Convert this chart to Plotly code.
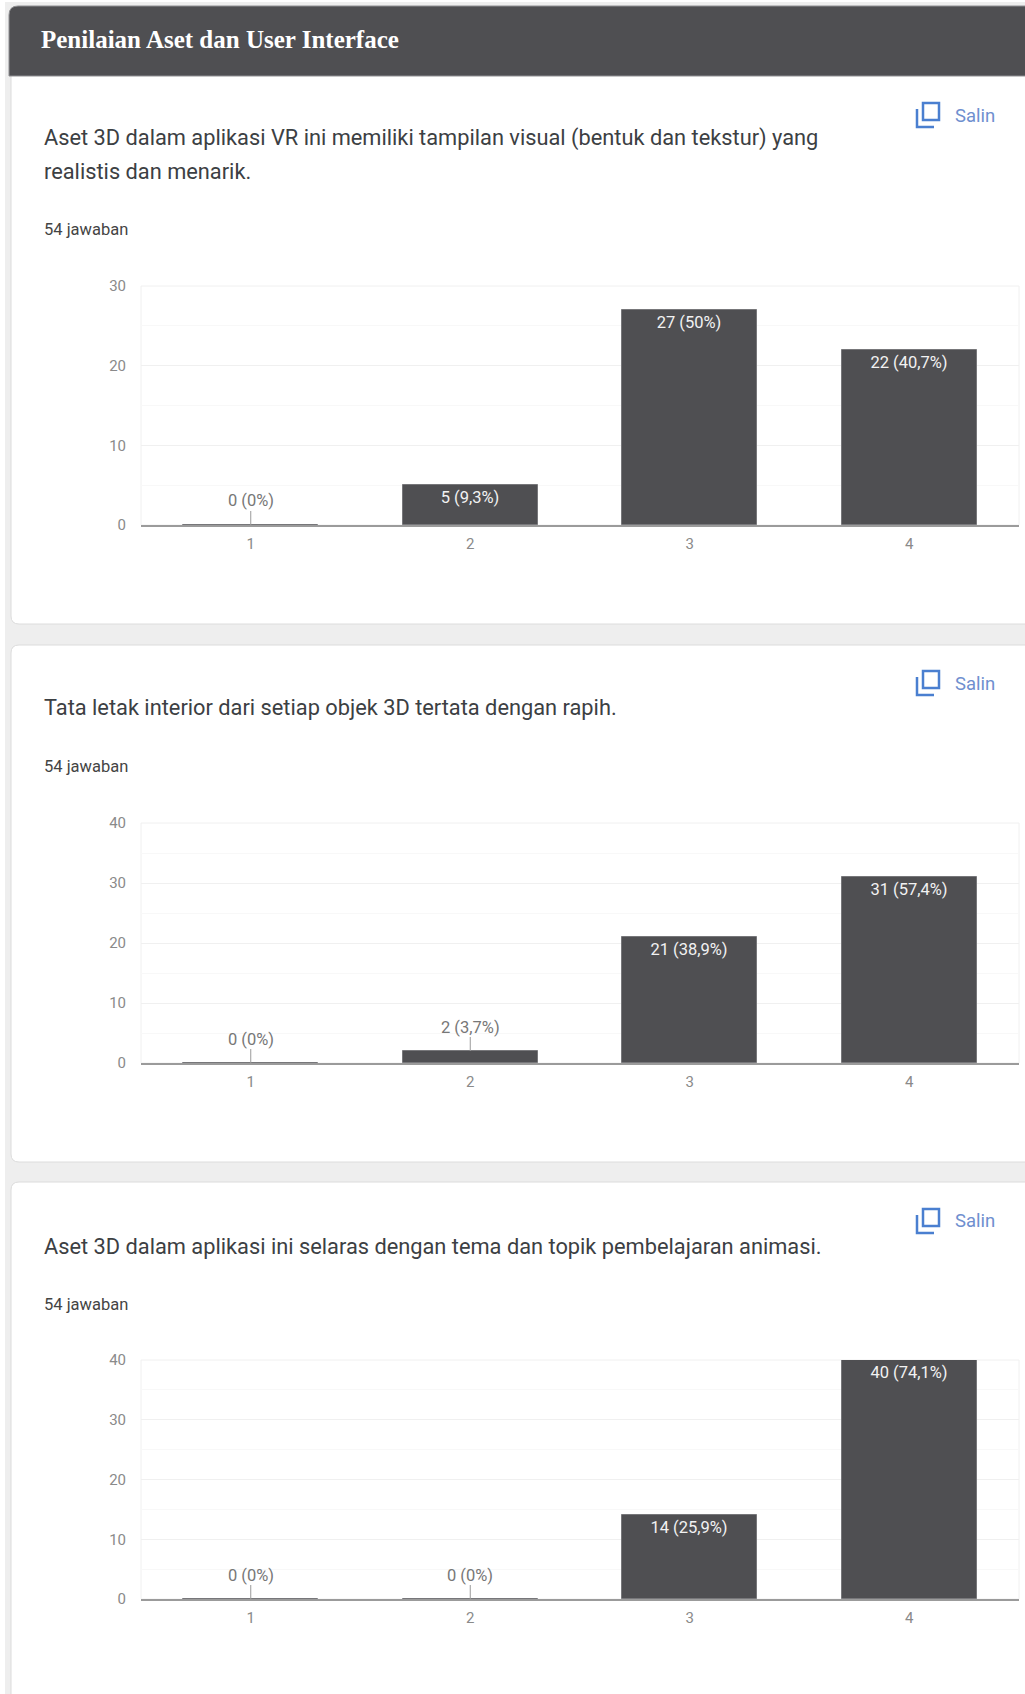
import plotly.graph_objects as go

W, H = 1025, 1694

section_title = "Penilaian Aset dan User Interface"
questions = [
    ["Aset 3D dalam aplikasi VR ini memiliki tampilan visual (bentuk dan tekstur) yang", "realistis dan menarik."],
    ["Tata letak interior dari setiap objek 3D tertata dengan rapih."],
    ["Aset 3D dalam aplikasi ini selaras dengan tema dan topik pembelajaran animasi."],
]
answers_label = "54 jawaban"
copy_label = "Salin"
categories = ["1", "2", "3", "4"]
values_q1 = [0, 5, 27, 22]
labels_q1 = ["0 (0%)", "5 (9,3%)", "27 (50%)", "22 (40,7%)"]
values_q2 = [0, 2, 21, 31]
labels_q2 = ["0 (0%)", "2 (3,7%)", "21 (38,9%)", "31 (57,4%)"]
values_q3 = [0, 0, 14, 40]
labels_q3 = ["0 (0%)", "0 (0%)", "14 (25,9%)", "40 (74,1%)"]
axis_max = [30, 40, 40]
major_ticks = [[0, 10, 20, 30], [0, 10, 20, 30, 40], [0, 10, 20, 30, 40]]
minor_ticks = [[5, 15, 25], [5, 15, 25, 35], [5, 15, 25, 35]]

series = [(values_q1, labels_q1), (values_q2, labels_q2), (values_q3, labels_q3)]

DARK = "#4f4f52"
BLUE = "#4a7fd0"
TEXT = "#3c4043"
TICK = "#8a8a8a"
FONT = "Roboto"

# pixel layout of the page
PX_LEFT, PX_RIGHT = 141, 1019
plot_px = [(286, 525), (823, 1063), (1360, 1599)]
q_y = [[138, 171], [707], [1246]]
ans_y = [229, 766, 1304]
copy_y = [116, 684, 1221]
icon_top = [102, 670, 1208]


def py(p):
    return 1 - p / H


def px(p):
    return p / W


fig = go.Figure()
shapes = []
ann = []


def paper_shape(**k):
    shapes.append(dict(xref="paper", yref="paper", layer="below", **k))


def rect_path(x0, y0, x1, y1, r_tl=0, r_bl=0):
    s = f"M {px(x0 + r_tl)} {py(y0)} L {px(x1)} {py(y0)} L {px(x1)} {py(y1)} L {px(x0 + r_bl)} {py(y1)} "
    if r_bl:
        s += f"Q {px(x0)} {py(y1)} {px(x0)} {py(y1 - r_bl)} "
    s += f"L {px(x0)} {py(y0 + r_tl)} "
    if r_tl:
        s += f"Q {px(x0)} {py(y0)} {px(x0 + r_tl)} {py(y0)} "
    return s + "Z"


# page background
paper_shape(type="rect", x0=px(5), x1=1, y0=py(H), y1=py(2), fillcolor="#eeeeee", line_width=0)
# cards
for top, bottom, r_tl, r_bl in [(70, 624, 0, 8), (645, 1162, 8, 8), (1182, H + 10, 8, 0)]:
    paper_shape(type="path", path=rect_path(11, top, W + 5, bottom, r_tl, r_bl),
                fillcolor="white", line=dict(color="#dcdcdc", width=1))
# header band
paper_shape(type="path", path=rect_path(9, 6, W + 5, 76, 9, 0), fillcolor=DARK, line=dict(color="#8f8f92", width=1))
ann.append(dict(text=f"<b>{section_title}</b>", xref="paper", yref="paper", x=px(41), y=py(39),
                xanchor="left", yanchor="middle", showarrow=False, xshift=-2,
                font=dict(family="Liberation Serif", size=25, color="white")))

for i, (vals, labels) in enumerate(series):
    n = "" if i == 0 else str(i + 1)
    top, bottom = plot_px[i]
    xname, yname = f"x{n}", f"y{n}"

    fig.add_trace(go.Bar(
        x=categories, y=vals, width=0.615, xaxis=xname, yaxis=yname,
        marker=dict(color=DARK, line=dict(color="#77777a", width=1)),
        text=[l if v >= 5 else "" for v, l in zip(vals, labels)],
        textposition="inside", insidetextanchor="end", textangle=0, constraintext="none",
        textfont=dict(family=FONT, size=16.5, color="#f2f2f2"),
        hoverinfo="skip", showlegend=False, cliponaxis=False,
    ))
    for k, (v, l) in enumerate(zip(vals, labels)):
        if v < 5:
            # outside label, and its short leader line down to the bar
            ann.append(dict(x=k, y=v, xref=xname, yref=yname, text=l, showarrow=False,
                            yshift=24, yanchor="middle",
                            font=dict(family=FONT, size=16.5, color="#777777")))
            ann.append(dict(x=k, y=v, xref=xname, yref=yname, text=" ", showarrow=True, arrowhead=0,
                            arrowwidth=1, arrowcolor="#9a9a9a", ax=0, ay=-16, standoff=0,
                            font=dict(family=FONT, size=1, color="#777777")))
    fig.update_layout(**{
        f"xaxis{n}": dict(domain=[px(PX_LEFT), px(PX_RIGHT)], anchor=yname, type="category", automargin=False,
                          range=[-0.5, 3.5], showgrid=False, showline=True, linecolor="#9b9b9b",
                          linewidth=1.5, ticks="", tickfont=dict(family=FONT, size=15, color=TICK),
                          ticklabelstandoff=4, zeroline=False, fixedrange=True),
        f"yaxis{n}": dict(domain=[py(bottom), py(top)], anchor=xname, range=[0, axis_max[i]], automargin=False,
                          tickvals=major_ticks[i], showgrid=True, gridcolor="#f0f0f0", gridwidth=1,
                          showline=False, ticks="", zeroline=False,
                          tickfont=dict(family=FONT, size=15, color=TICK), ticklabelstandoff=14,
                          minor=dict(tickvals=minor_ticks[i], showgrid=True, gridcolor="#f8f8f8", gridwidth=1),
                          fixedrange=True),
    })
    # faint frame round the plot area
    paper_shape(type="rect", x0=px(PX_LEFT), x1=px(PX_RIGHT), y0=py(bottom), y1=py(top),
                line=dict(color="#f0f0f0", width=1))

    # question text
    for line, ly in zip(questions[i], q_y[i]):
        ann.append(dict(text=line, xref="paper", yref="paper", x=px(44), y=py(ly),
                        xanchor="left", yanchor="middle", align="left", showarrow=False, xshift=-2,
                        font=dict(family=FONT, size=21.8, color=TEXT)))
    ann.append(dict(text=answers_label, xref="paper", yref="paper", x=px(44), y=py(ans_y[i]),
                    xanchor="left", yanchor="middle", showarrow=False, xshift=-2,
                    font=dict(family=FONT, size=16.5, color="#444444")))
    ann.append(dict(text=copy_label, xref="paper", yref="paper", x=px(955), y=py(copy_y[i]),
                    xanchor="left", yanchor="middle", showarrow=False, xshift=-2,
                    font=dict(family=FONT, size=18.5, color="#6f8fcf")))
    # copy icon
    t = icon_top[i]
    paper_shape(type="rect", x0=px(923), x1=px(939), y0=py(t + 18), y1=py(t + 1),
                line=dict(color=BLUE, width=2.5))
    paper_shape(type="path",
                path=f"M {px(917)} {py(t + 7)} L {px(917)} {py(t + 25)} L {px(934)} {py(t + 25)}",
                line=dict(color=BLUE, width=2.5))

fig.update_layout(width=W, height=H, margin=dict(l=0, r=0, t=0, b=0), paper_bgcolor="white",
                  plot_bgcolor="rgba(0,0,0,0)", shapes=shapes, annotations=ann, bargap=0)
fig.write_html("out.html", config=dict(displayModeBar=False),
               post_script="document.body.style.margin='0';document.documentElement.style.overflow='hidden';")
